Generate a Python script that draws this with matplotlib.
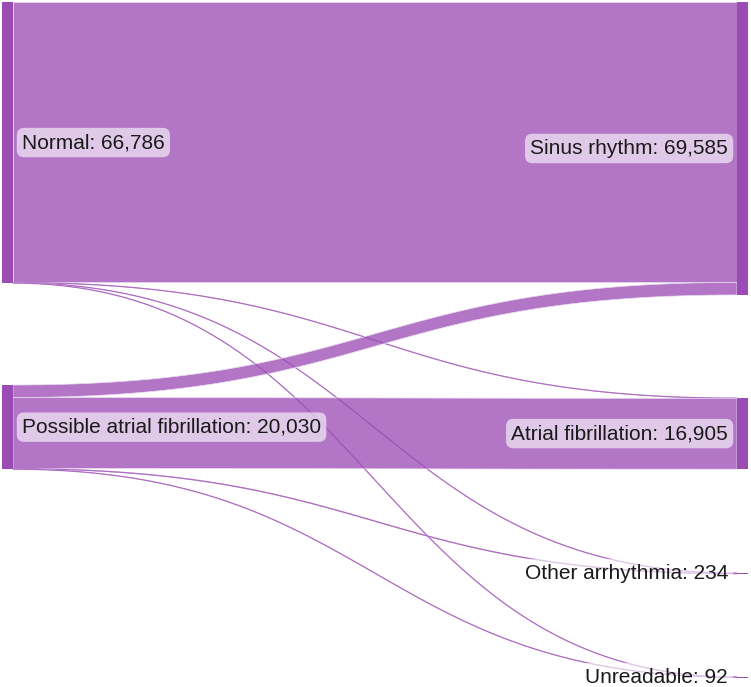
import numpy as np
import matplotlib
matplotlib.use('Agg')
import matplotlib.pyplot as plt
from matplotlib.patches import Polygon, Rectangle

# nodes
left_names = ['Normal', 'Possible atrial fibrillation']
left_values = [66786, 20030]
right_names = ['Sinus rhythm', 'Atrial fibrillation', 'Other arrhythmia', 'Unreadable']
right_values = [69585, 16905, 234, 92]

# flows (source index, target index, value), estimated from band widths
link_src = [0, 0, 0, 0, 1, 1, 1, 1]
link_tgt = [0, 1, 2, 3, 0, 1, 2, 3]
link_val = [66606, 80, 60, 40, 2979, 16825, 174, 52]

# layout (pixels)
W, H = 751, 687
ky = 0.00421
node_w = 11
left_x = 2
right_x = 737
left_top = [2, 385]
right_top = [2, 398, 573, 677]

node_color = '#9b4bb4'
link_color = (155/255, 75/255, 180/255, 0.76)

fig = plt.figure(figsize=(W / 100, H / 100), dpi=100)
ax = fig.add_axes([0, 0, 1, 1])
ax.set_xlim(0, W)
ax.set_ylim(H, 0)
ax.axis('off')


def bezier(x0, y0, x1, y1, n=80):
    t = np.linspace(0, 1, n)
    xm = (x0 + x1) / 2
    xs = (1-t)**3*x0 + 3*(1-t)**2*t*xm + 3*(1-t)*t**2*xm + t**3*x1
    ys = (1-t)**3*y0 + 3*(1-t)**2*t*y0 + 3*(1-t)*t**2*y1 + t**3*y1
    return xs, ys


# stack links at each node, ordered by the node at the other end
src_pos = {}
for s in range(len(left_names)):
    off = left_top[s]
    for i in sorted([i for i in range(len(link_val)) if link_src[i] == s], key=lambda i: link_tgt[i]):
        src_pos[i] = off
        off += link_val[i] * ky
tgt_pos = {}
for t in range(len(right_names)):
    off = right_top[t]
    for i in sorted([i for i in range(len(link_val)) if link_tgt[i] == t], key=lambda i: link_src[i]):
        tgt_pos[i] = off
        off += link_val[i] * ky

x0 = left_x + node_w
x1 = right_x
for i, v in enumerate(link_val):
    w = v * ky
    ys0, yt0 = src_pos[i], tgt_pos[i]
    tx, ty = bezier(x0, ys0, x1, yt0)
    bx, by = bezier(x0, ys0 + w, x1, yt0 + w)
    pts = np.column_stack([np.concatenate([tx, bx[::-1]]), np.concatenate([ty, by[::-1]])])
    ax.add_patch(Polygon(pts, closed=True, facecolor=link_color, edgecolor='#eadcf0', lw=0.5, zorder=2))
    if w < 2:
        cx, cy = bezier(x0, ys0 + w / 2, x1, yt0 + w / 2)
        ax.plot(cx, cy, color=link_color, lw=0.9, zorder=2, solid_capstyle='butt')

label_font = ['Liberation Sans', 'DejaVu Sans']
box = dict(boxstyle='round,pad=0.25,rounding_size=0.35', facecolor='white', alpha=0.6, edgecolor='none')

for name, val, top in zip(left_names, left_values, left_top):
    h = val * ky
    ax.add_patch(Rectangle((left_x, top), node_w, h, facecolor=node_color, edgecolor='none', zorder=3))
    ax.text(left_x + node_w + 9, top + h / 2, f'{name}: {val:,}', ha='left', va='center',
            fontsize=15, family=label_font, color='#1a1a1a', bbox=box, zorder=4)

for name, val, top in zip(right_names, right_values, right_top):
    h = max(val * ky, 1.0)
    ax.add_patch(Rectangle((right_x, top), node_w, h, facecolor=node_color, edgecolor='none', zorder=3))
    ax.text(right_x - 9, top + h / 2, f'{name}: {val:,}', ha='right', va='center',
            fontsize=15, family=label_font, color='#1a1a1a', bbox=box, zorder=4)

fig.savefig('out.png', dpi=100)
